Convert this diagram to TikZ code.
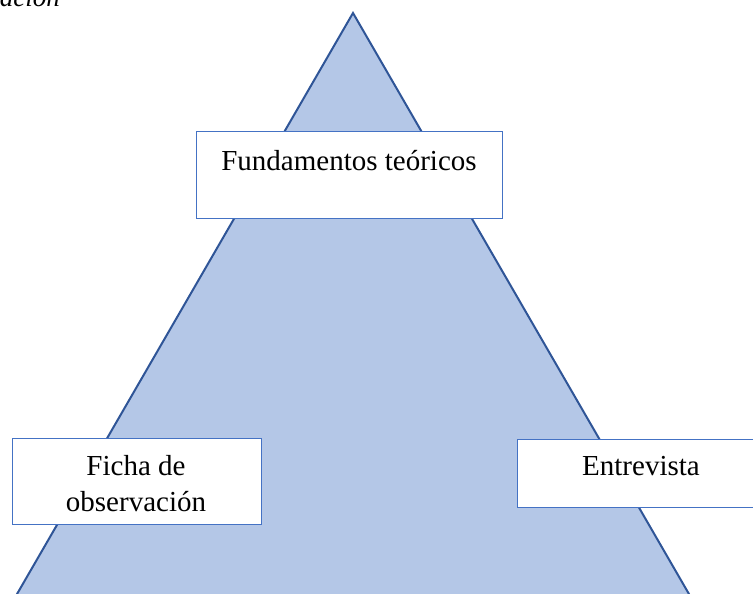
\documentclass[tikz,border=0pt]{standalone}
\usepackage{fontspec}
\setmainfont{Liberation Serif}
\usetikzlibrary{positioning}
\definecolor{trifill}{HTML}{B4C7E7}
\definecolor{triline}{HTML}{2F5597}
\definecolor{boxline}{HTML}{4472C4}
\tikzset{
	box/.style={draw=boxline, line width=1pt, fill=white, inner sep=0pt},
	lbl/.style={inner sep=0pt, font=\fontsize{29}{36}\selectfont}
}
\begin{document}
\begin{tikzpicture}[x=1pt, y=-1pt]
					\useasboundingbox (0,0) rectangle (753,594);
					
					% caption, cut off at the top
					\node[inner sep=0pt, anchor=base east, font=\fontsize{27}{32}\selectfont\itshape] (cap) at (60,7) {ación};
					
					% Triangle
					\coordinate (apex) at (353,13);
					\coordinate (left) at (2,620);
					\coordinate (right) at (704,620);
					\filldraw[fill=trifill, draw=triline, line width=2pt, line join=miter] (apex) -- (left) -- (right) -- cycle;
					
					% Boxes
					\node[box, minimum width=306, minimum height=87] (fund) at (349,174.5) {};
					\node[lbl, anchor=base] (fundtxt) at (349,170) {Fundamentos teóricos};
					
					\node[box, minimum width=249, minimum height=86] (ficha) at (136.5,481) {};
					\node[lbl, anchor=base] (fichatxt) at (136,475) {Ficha de};
					\node[lbl, anchor=base] (obstxt) at (136,511) {observación};
					
					\node[box, minimum width=250, minimum height=68, anchor=north west] (entr) at (517,439) {};
					\node[lbl, anchor=base] (entrtxt) at (641,475) {Entrevista};
				\end{tikzpicture}
\end{document}
